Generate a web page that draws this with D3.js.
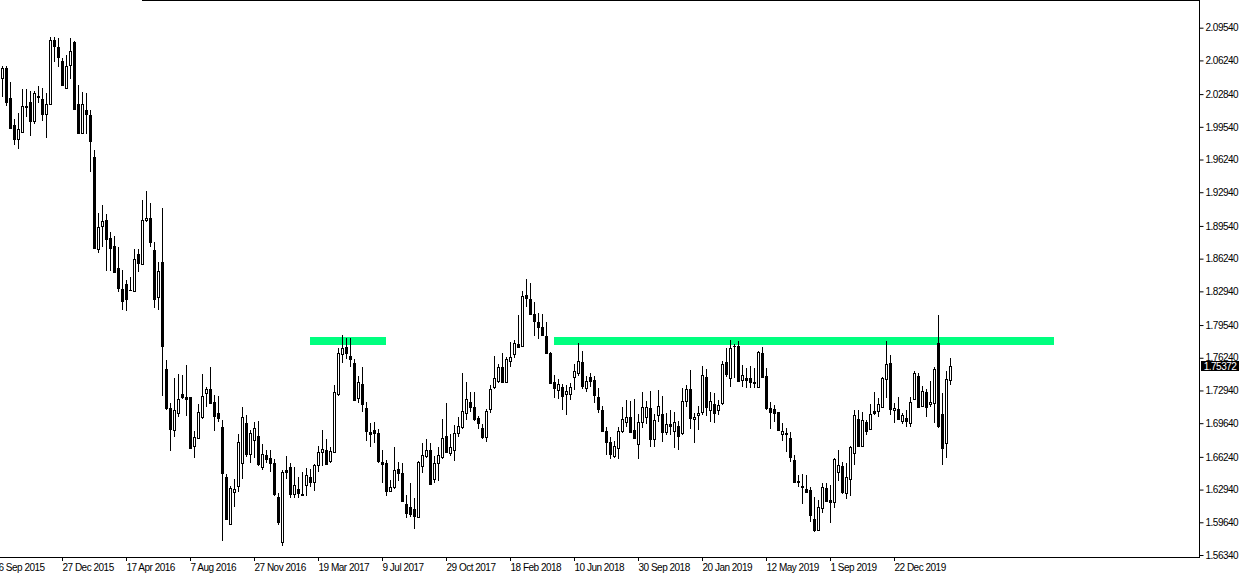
<!DOCTYPE html>
<html>
<head>
<meta charset="utf-8">
<script src="https://cdn.jsdelivr.net/npm/d3@7"></script>
<style>
  body { margin: 0; background: #fff; }
  svg { display: block; }
  text { font-family: "Liberation Sans", Arial, sans-serif; font-size: 10px; fill: #000; }
</style>
</head>
<body>
<script>
// weekly GBPCAD style candles, first bar week of 13 Sep 2015
const firstWeek = "2015-09-13";

const opens = [2.0443,2.0544,2.0241,1.9972,1.9828,1.9904,2.0160,2.0201,2.0015,2.0261,2.0231,2.0086,2.0181,2.0829,2.0756,2.0614,2.0348,2.0574,2.0809,2.0184,
1.9894,2.0123,2.0070,1.9649,1.8718,1.8956,1.9013,1.8829,1.8751,1.8526,1.8317,1.8364,1.8307,1.8300,1.8670,1.8566,1.9013,1.9030,1.8711,1.8236,
1.8586,1.7507,1.7113,1.6894,1.7063,1.7255,1.7224,1.7224,1.6733,1.6811,1.7028,1.7265,1.7305,1.7174,1.7063,1.6922,1.6417,1.5943,1.6272,1.6332,
1.6564,1.6962,1.6649,1.6793,1.6831,1.6524,1.6639,1.6609,1.6558,1.6215,1.5761,1.6491,1.6518,1.6246,1.6296,1.6238,1.6339,1.6417,1.6373,1.6538,
1.6675,1.6689,1.6585,1.6675,1.7255,1.7658,1.7729,1.7641,1.7567,1.7214,1.7355,1.7113,1.6871,1.6891,1.6864,1.6574,1.6558,1.6282,1.6322,1.6498,
1.6457,1.6145,1.6114,1.6097,1.6019,1.6531,1.6635,1.6689,1.6397,1.6564,1.6619,1.6834,1.6665,1.6692,1.6867,1.6922,1.7063,1.7177,1.7126,1.7012,
1.6911,1.6821,1.7103,1.7325,1.7392,1.7527,1.7376,1.7594,1.7658,1.7759,1.7742,1.8256,1.8213,1.8065,1.7981,1.7931,1.7843,1.7674,1.7382,1.7298,
1.7325,1.7255,1.7255,1.7426,1.7466,1.7577,1.7315,1.7426,1.7399,1.7224,1.7096,1.6884,1.6773,1.6635,1.6710,1.6884,1.6978,1.7025,1.6894,1.6750,
1.6972,1.7028,1.7113,1.6800,1.7046,1.7056,1.6871,1.6952,1.6887,1.6938,1.6861,1.7187,1.7305,1.7002,1.7043,1.7073,1.7426,1.7096,1.7157,1.7093,
1.7164,1.7584,1.7416,1.7742,1.7742,1.7399,1.7416,1.7416,1.7376,1.7331,1.7668,1.7439,1.7113,1.7106,1.7073,1.6851,1.6861,1.6817,1.6592,1.6383,
1.6329,1.6299,1.6289,1.5996,1.5885,1.6104,1.6306,1.6188,1.6171,1.6467,1.6531,1.6256,1.6397,1.6659,1.7005,1.6736,1.6978,1.6904,1.7086,1.7089,
1.7129,1.7406,1.7573,1.7096,1.7103,1.6988,1.7018,1.6962,1.7204,1.7439,1.7136,1.7275,1.7153,1.7164,1.7775,1.7056,1.6760,1.7399];

const highs = [2.0567,2.0567,2.0403,2.0029,2.0090,2.0332,2.0332,2.0315,2.0315,2.0365,2.0342,2.0292,2.0860,2.0860,2.0847,2.0645,2.0678,2.0853,2.0819,2.0375,
2.0308,2.0295,2.0123,1.9720,1.9087,1.9168,1.9071,1.8889,1.8852,1.8744,1.8509,1.8408,1.8441,1.8718,1.8721,1.9215,1.9306,1.9182,1.8794,1.8589,
1.9131,1.7601,1.7164,1.7416,1.7456,1.7449,1.7550,1.7230,1.6884,1.7157,1.7456,1.7331,1.7527,1.7247,1.7237,1.6995,1.6450,1.6329,1.6400,1.6854,
1.7123,1.7046,1.6894,1.6978,1.6985,1.6750,1.6692,1.6692,1.6599,1.6256,1.6491,1.6632,1.6558,1.6518,1.6417,1.6467,1.6508,1.6498,1.6551,1.6733,
1.6894,1.6800,1.6726,1.7348,1.7719,1.7853,1.7820,1.7820,1.7608,1.7439,1.7533,1.7174,1.6962,1.6972,1.6901,1.6692,1.6592,1.6390,1.6720,1.6568,
1.6558,1.6238,1.6357,1.6205,1.6582,1.6760,1.6800,1.6760,1.6632,1.6726,1.7005,1.7164,1.6854,1.6945,1.7028,1.7466,1.7382,1.7281,1.7281,1.7039,
1.6952,1.7103,1.7348,1.7641,1.7560,1.7668,1.7628,1.7785,1.7802,1.8055,1.8300,1.8415,1.8381,1.8189,1.8072,1.8062,1.7987,1.7684,1.7449,1.7406,
1.7358,1.7348,1.7366,1.7557,1.7775,1.7691,1.7439,1.7472,1.7439,1.7321,1.7136,1.6928,1.6821,1.6786,1.6922,1.7129,1.7197,1.7187,1.7204,1.7056,
1.7281,1.7190,1.7288,1.7053,1.7298,1.7237,1.7063,1.7096,1.7079,1.6988,1.7315,1.7348,1.7500,1.7069,1.7139,1.7540,1.7507,1.7281,1.7265,1.7197,
1.7594,1.7719,1.7802,1.7759,1.7792,1.7550,1.7517,1.7540,1.7517,1.7694,1.7729,1.7517,1.7180,1.7147,1.7079,1.6962,1.6911,1.6871,1.6642,1.6440,
1.6450,1.6440,1.6316,1.6221,1.6188,1.6357,1.6363,1.6339,1.6609,1.6692,1.6574,1.6564,1.6733,1.7096,1.7096,1.7079,1.6995,1.7157,1.7281,1.7214,
1.7426,1.7792,1.7651,1.7164,1.7224,1.7063,1.7096,1.7224,1.7493,1.7466,1.7338,1.7305,1.7392,1.7533,1.8055,1.7265,1.7493,1.7618];

const lows = [2.0257,2.0163,1.9945,1.9770,1.9733,1.9904,2.0049,1.9861,1.9982,2.0197,2.0015,1.9844,2.0181,2.0604,2.0554,2.0368,2.0342,2.0436,2.0133,1.9878,
1.9881,1.9881,1.9501,1.8728,1.8677,1.8744,1.8502,1.8502,1.8475,1.8290,1.8105,1.8098,1.8297,1.8284,1.8485,1.8566,1.8990,1.8744,1.8122,1.8105,
1.7240,1.7096,1.6685,1.6827,1.7028,1.7207,1.7039,1.6710,1.6609,1.6811,1.7002,1.7129,1.7164,1.6887,1.6972,1.5777,1.5986,1.5943,1.6120,1.6266,
1.6397,1.6625,1.6564,1.6609,1.6531,1.6491,1.6558,1.6474,1.6231,1.5936,1.5727,1.6403,1.6211,1.6211,1.6205,1.6228,1.6231,1.6316,1.6282,1.6474,
1.6534,1.6541,1.6558,1.6659,1.7237,1.7573,1.7608,1.7527,1.7190,1.7170,1.7079,1.6786,1.6720,1.6760,1.6564,1.6357,1.6231,1.6266,1.6299,1.6380,
1.6165,1.6003,1.6013,1.5892,1.6019,1.6463,1.6609,1.6346,1.6363,1.6380,1.6599,1.6659,1.6632,1.6585,1.6827,1.6904,1.6995,1.7079,1.6988,1.6901,
1.6800,1.6776,1.7069,1.7305,1.7366,1.7372,1.7376,1.7533,1.7618,1.7735,1.7735,1.8138,1.8055,1.7846,1.7809,1.7846,1.7668,1.7366,1.7214,1.7204,
1.7096,1.7046,1.7197,1.7298,1.7439,1.7305,1.7281,1.7331,1.7164,1.7063,1.6901,1.6642,1.6599,1.6609,1.6599,1.6861,1.6928,1.6901,1.6800,1.6599,
1.6911,1.6952,1.6720,1.6726,1.6978,1.6776,1.6844,1.6844,1.6710,1.6692,1.6844,1.7129,1.6901,1.6760,1.6894,1.7046,1.7036,1.6978,1.6968,1.7046,
1.7147,1.7432,1.7331,1.7419,1.7389,1.7331,1.7315,1.7315,1.7315,1.7331,1.7416,1.7096,1.6901,1.6978,1.6887,1.6786,1.6675,1.6568,1.6363,1.6316,
1.6148,1.6256,1.5969,1.5868,1.5878,1.6054,1.6171,1.5953,1.6104,1.6383,1.6249,1.6195,1.6228,1.6541,1.6726,1.6726,1.6844,1.6894,1.7046,1.7022,
1.7129,1.7214,1.7046,1.6962,1.7005,1.6955,1.6922,1.6922,1.7197,1.7123,1.7123,1.7022,1.7129,1.6968,1.6911,1.6541,1.6609,1.7348];

const closes = [2.0544,2.0207,1.9945,1.9828,1.9928,2.0160,2.0158,2.0015,2.0295,2.0259,2.0086,2.0181,2.0829,2.0772,2.0661,2.0375,2.0567,2.0718,2.0133,1.9894,
2.0181,2.0080,1.9813,1.8734,1.8940,1.9003,1.8818,1.8734,1.8492,1.8324,1.8199,1.8213,1.8305,1.8617,1.8576,1.9013,1.9030,1.8794,1.8213,1.8499,
1.7745,1.7119,1.6901,1.7096,1.7207,1.7230,1.7204,1.6710,1.6821,1.7073,1.7234,1.7308,1.7170,1.7039,1.7018,1.6457,1.5996,1.6306,1.6296,1.6770,
1.7028,1.6652,1.6861,1.6911,1.6551,1.6649,1.6605,1.6564,1.6249,1.5969,1.6467,1.6471,1.6246,1.6339,1.6262,1.6246,1.6437,1.6373,1.6538,1.6669,
1.6700,1.6554,1.6682,1.7281,1.7668,1.7719,1.7668,1.7608,1.7197,1.7382,1.7154,1.6887,1.6857,1.6867,1.6585,1.6548,1.6282,1.6316,1.6488,1.6457,
1.6181,1.6060,1.6044,1.6030,1.6568,1.6642,1.6692,1.6352,1.6558,1.6639,1.6811,1.6675,1.6720,1.6861,1.6935,1.7086,1.7207,1.7123,1.7002,1.6962,
1.6827,1.7089,1.7305,1.7416,1.7533,1.7382,1.7608,1.7628,1.7769,1.7735,1.8246,1.8223,1.8065,1.7997,1.7937,1.7853,1.7674,1.7366,1.7315,1.7358,
1.7240,1.7285,1.7325,1.7493,1.7591,1.7338,1.7389,1.7392,1.7247,1.7106,1.6887,1.6776,1.6652,1.6733,1.6884,1.7002,1.7022,1.6877,1.6811,1.6972,
1.7123,1.7123,1.6800,1.6995,1.7133,1.6871,1.6952,1.6938,1.6978,1.6837,1.7190,1.7305,1.7012,1.7028,1.7063,1.7449,1.7123,1.7187,1.7063,1.7144,
1.7560,1.7456,1.7719,1.7740,1.7392,1.7449,1.7399,1.7382,1.7374,1.7681,1.7432,1.7113,1.7079,1.7069,1.6894,1.6884,1.6851,1.6619,1.6373,1.6367,
1.6322,1.6272,1.6037,1.5885,1.6114,1.6316,1.6181,1.6171,1.6607,1.6541,1.6266,1.6417,1.6720,1.7046,1.6736,1.6995,1.6887,1.7053,1.7063,1.7153,
1.7416,1.7560,1.7103,1.7119,1.7005,1.7046,1.6988,1.7174,1.7472,1.7129,1.7291,1.7123,1.7174,1.7510,1.6938,1.6710,1.7406,1.75372];

const priceTicks = [2.0954, 2.0624, 2.0284, 1.9954, 1.9624, 1.9294, 1.8954, 1.8624, 1.8294,
                    1.7954, 1.7624, 1.7294, 1.6964, 1.6624, 1.6294, 1.5964, 1.5634];
const dateTicks = ["6 Sep 2015", "27 Dec 2015", "17 Apr 2016", "7 Aug 2016", "27 Nov 2016",
                   "19 Mar 2017", "9 Jul 2017", "29 Oct 2017", "18 Feb 2018", "10 Jun 2018",
                   "30 Sep 2018", "20 Jan 2019", "12 May 2019", "1 Sep 2019", "22 Dec 2019"];
const lastPrice = 1.75372;

// resistance zones drawn on the chart
const levelStart = ["2017-03-05", "2018-05-06"];
const levelEnd = ["2017-07-16", "2020-09-27"];
const levelPrice = [1.7794, 1.7794];

const W = 1244, H = 576;
const axisX = 1200, axisY = 557;

const parseIso = d3.utcParse("%Y-%m-%d");
const parseTick = d3.utcParse("%d %b %Y");
const start = parseTick(dateTicks[0]);

const x = d3.scaleUtc()
    .domain([start, d3.utcDay.offset(start, 7 * 300)])
    .range([-2, -2 + 4 * 300]);

const y = d3.scaleLinear()
    .domain([1.5634, 2.0954])
    .range([555, 27.7]);

const first = parseIso(firstWeek);
const candles = opens.map((o, i) => ({
    date: d3.utcDay.offset(first, 7 * i),
    o: o, h: highs[i], l: lows[i], c: closes[i]
}));

const svg = d3.select("body").append("svg")
    .attr("width", W)
    .attr("height", H);

svg.append("rect").attr("width", W).attr("height", H).attr("fill", "#fff");

const plot = svg.append("g");

// green zones behind candles
plot.selectAll(".zone")
    .data(levelPrice)
    .join("rect")
    .attr("class", "zone")
    .attr("x", (d, i) => Math.round(x(parseIso(levelStart[i]))))
    .attr("width", (d, i) => Math.round(x(parseIso(levelEnd[i]))) - Math.round(x(parseIso(levelStart[i]))))
    .attr("y", d => Math.round(y(d)) - 4)
    .attr("height", 8)
    .attr("fill", "#00ff7f");

const bars = plot.selectAll(".candle")
    .data(candles)
    .join("g")
    .attr("class", "candle");

bars.append("rect")
    .attr("x", d => Math.round(x(d.date)))
    .attr("width", 1)
    .attr("y", d => Math.round(y(d.h)))
    .attr("height", d => Math.max(1, Math.round(y(d.l)) - Math.round(y(d.h))))
    .attr("fill", "#000");

bars.append("rect")
    .attr("x", d => Math.round(x(d.date)) - 1)
    .attr("width", 3)
    .attr("y", d => Math.round(y(Math.max(d.o, d.c))))
    .attr("height", d => Math.round(y(Math.min(d.o, d.c))) - Math.round(y(Math.max(d.o, d.c))) + 1)
    .attr("fill", "#000");

// hollow inside of rising candles
bars.filter(d => d.c > d.o && Math.round(y(d.o)) - Math.round(y(d.c)) >= 2)
    .append("rect")
    .attr("x", d => Math.round(x(d.date)))
    .attr("width", 1)
    .attr("y", d => Math.round(y(d.c)) + 1)
    .attr("height", d => Math.round(y(d.o)) - Math.round(y(d.c)) - 1)
    .attr("fill", "#fff");

// frame
svg.append("line")
    .attr("x1", 142).attr("x2", axisX)
    .attr("y1", 0.5).attr("y2", 0.5)
    .attr("stroke", "#000");
svg.append("line")
    .attr("x1", axisX - 0.5).attr("x2", axisX - 0.5)
    .attr("y1", 0).attr("y2", axisY + 0.5)
    .attr("stroke", "#000");
svg.append("line")
    .attr("x1", 0).attr("x2", axisX)
    .attr("y1", axisY + 0.5).attr("y2", axisY + 0.5)
    .attr("stroke", "#000");

// price axis
const yAxis = svg.append("g")
    .attr("transform", `translate(${axisX - 0.5},0)`)
    .call(d3.axisRight(y)
        .tickValues(priceTicks)
        .tickSize(4)
        .tickPadding(2)
        .tickFormat(d3.format(".5f")));
yAxis.select(".domain").remove();
yAxis.selectAll("text")
    .attr("font-family", "Liberation Sans, Arial, sans-serif")
    .attr("font-size", 10)
    .attr("letter-spacing", -0.5)
    .attr("fill", "#000");

// time axis
const xAxis = svg.append("g")
    .attr("transform", `translate(0,${axisY})`)
    .call(d3.axisBottom(x)
        .tickValues(dateTicks.map(parseTick))
        .tickSize(4)
        .tickPadding(3)
        .tickFormat(d3.utcFormat("%-d %b %Y")));
xAxis.select(".domain").remove();
xAxis.selectAll("text")
    .attr("text-anchor", "start")
    .attr("x", 0)
    .attr("font-family", "Liberation Sans, Arial, sans-serif")
    .attr("font-size", 10)
    .attr("letter-spacing", -0.5)
    .attr("fill", "#000");

// current price marker
const py = Math.round(y(lastPrice));
svg.append("rect")
    .attr("x", axisX + 1)
    .attr("y", py - 5)
    .attr("width", 38)
    .attr("height", 10)
    .attr("fill", "#000");
svg.append("text")
    .attr("x", axisX + 20)
    .attr("y", py)
    .attr("dy", "0.35em")
    .attr("text-anchor", "middle")
    .attr("letter-spacing", -0.5)
    .style("fill", "#fff")
    .text(d3.format(".5f")(lastPrice));
</script>
</body>
</html>
